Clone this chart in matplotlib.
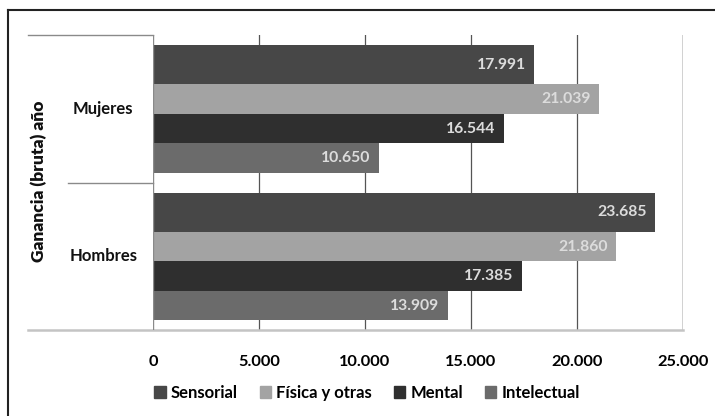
import matplotlib.pyplot as plt
from matplotlib.transforms import blended_transform_factory
from matplotlib.lines import Line2D

# datos del gráfico
groups = ["Hombres", "Mujeres"]
series = ["Sensorial", "Física y otras", "Mental", "Intelectual"]
sensorial = [23685, 17991]
fisica = [21860, 21039]
mental = [17385, 16544]
intelectual = [13909, 10650]
xticks = [0, 5000, 10000, 15000, 20000, 25000]
xtick_labels = ["0", "5.000", "10.000", "15.000", "20.000", "25.000"]

values = [sensorial, fisica, mental, intelectual]
colors = ["#474747", "#a3a3a3", "#2f2f2f", "#6b6b6b"]
heights = [0.265, 0.2, 0.2, 0.2]

plt.rcParams["font.family"] = ["Lato", "DejaVu Sans"]
plt.rcParams["font.weight"] = "bold"

fig = plt.figure(figsize=(7.15, 4.16), dpi=100)
ax = fig.add_axes([153 / 715, 1 - 330 / 416, 530 / 715, 295 / 416])

for gi, center in enumerate(range(len(groups))):
    top = center + 0.5 - 0.07
    for si, vals in enumerate(values):
        h = heights[si]
        ax.barh(top - h / 2, vals[gi], height=h, color=colors[si], zorder=2)
        ax.text(vals[gi] - 400, top - h / 2, f"{vals[gi]:,}".replace(",", "."),
                ha="right", va="center", color="#dcdcdc", fontsize=11.3,
                fontweight="bold", zorder=3)
        top -= h

ax.set_xlim(0, 25000)
ax.set_ylim(-0.5, 1.5)
ax.set_xticks(xticks)
ax.set_xticklabels(xtick_labels, fontsize=11.8, fontweight="bold")
ax.set_yticks([])
ax.tick_params(axis="x", length=0, pad=18)
for s in ax.spines.values():
    s.set_visible(False)

for x in xticks[1:-1]:
    ax.axvline(x, color="#555555", linewidth=0.9, zorder=1)
ax.axvline(25000, color="#c4c4c4", linewidth=1.8, zorder=1)
ax.axvline(0, color="#8a8a8a", linewidth=1.0, zorder=3)

trans = blended_transform_factory(ax.transAxes, ax.transData)
ax.add_line(Line2D([-0.236, 0], [1.5, 1.5], transform=trans, color="#8a8a8a",
                   linewidth=1.0, clip_on=False))
ax.add_line(Line2D([-0.160, 0], [0.5, 0.5], transform=trans, color="#8a8a8a",
                   linewidth=1.0, clip_on=False))
ax.add_line(Line2D([-0.236, 1], [-0.5, -0.5], transform=trans, color="#c4c4c4",
                   linewidth=1.8, clip_on=False))

for gi, name in enumerate(groups):
    ax.text(-0.094, gi, name, transform=trans, ha="center", va="center",
            fontsize=12, fontweight="bold", color="#111111")

fig.text(39 / 715, 1 - 181 / 416, "Ganancia (bruta) año", rotation=90,
         ha="center", va="center", fontsize=12.5, fontweight="heavy", color="#111111")

handles = [plt.Rectangle((0, 0), 1, 1, color=c) for c in colors]
fig.legend(handles, series, loc="center", bbox_to_anchor=(367 / 715, 1 - 393 / 416),
           ncol=4, frameon=False, fontsize=12, handlelength=0.7, handleheight=0.7,
           handletextpad=0.3, columnspacing=1.3, borderaxespad=0)

# marco exterior
fig.add_artist(Line2D([8 / 715, 1], [1 - 10 / 416, 1 - 10 / 416],
                      transform=fig.transFigure, color="#222222", linewidth=1.5))
fig.add_artist(Line2D([8 / 715, 8 / 715], [0, 1 - 10 / 416],
                      transform=fig.transFigure, color="#222222", linewidth=1.5))

fig.savefig("out.png", dpi=100)
